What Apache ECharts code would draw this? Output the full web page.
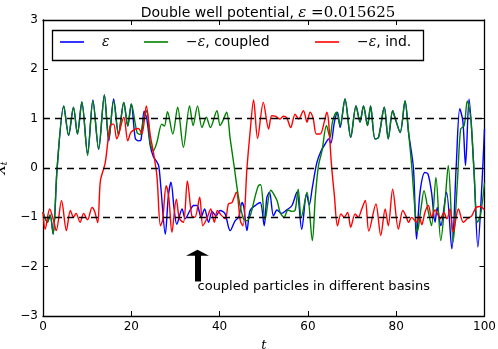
<!DOCTYPE html>
<html>
<head>
<meta charset="utf-8">
<script src="https://cdn.jsdelivr.net/npm/echarts@6/dist/echarts.min.js"></script>
<style>
html, body { margin: 0; padding: 0; background: #fff; }
#chart { width: 498px; height: 349px; }
</style>
</head>
<body>
<div id="chart"></div>
<script>
// tick positions
var xTicks = [0, 20, 40, 60, 80, 100];
var yTicks = [-3, -2, -1, 0, 1, 2, 3];
var wellLevels = [1, 0, -1];

// epsilon (blue)
var epsT = [0,1,1.6,2.3,3.2,4.7,5.8,6.9,7.8,8.8,10.1,11.3,12.6,13.9,14.9,16,17.1,18.3,19.2,20,20.9,21.6,22.2,22.9,23.5,24.3,25,25.6,26.2,26.7,27.7,28.4,29,29.7,30.3,31.5,32.2,33.3,34.1,34.9,35.8,36.6,37.5,38.3,39.2,40.1,41.2,42.4,43.5,44.3,45.1,45.5,46.2,46.9,48.1,49.2,50.1,50.7,51.3,52.2,53,54,55.2,56.4,57.5,58.6,59.7,60.3,61,62,63,64,64.7,65.2,66,66.7,67.3,68.4,69.7,70.9,71.8,72.6,73.5,74.2,75.2,76,77.3,78.2,79.2,79.8,80.9,82,82.8,83.9,84.6,85.4,86.5,87.2,88,88.8,89.3,90.1,91.4,92.6,93.6,94.4,95.1,95.7,96.5,97.6,98.5,99.4,100];
var epsX = [-0.9,-1.1,-0.95,-1.34,0,1.26,0.66,1.23,0.69,1.34,0.3,1.38,0.38,1.48,0.55,1.4,0.7,1.33,0.85,1.3,0.6,0.55,0.57,1.15,1.0,0.45,0.23,0.15,0.05,-0.4,-1.34,-0.56,-0.29,-0.83,-1.14,-0.83,-1.03,-0.86,-0.76,-0.76,-1.0,-0.83,-1.1,-0.88,-0.97,-0.86,-0.92,-1.27,-1.07,-1.0,-0.7,-0.8,-1.27,-0.86,-0.76,-0.7,-1.17,-0.6,-0.49,-0.97,-0.85,-0.92,-0.85,-0.76,-0.49,-1.24,-0.52,-0.75,-0.4,0.1,0.35,0.5,0.59,0.5,0.93,1.13,0.82,1.4,0.62,1.26,0.93,1.26,0.86,1.26,0.59,0.62,1.23,0.59,1.16,1.0,0.72,1.36,0.72,0,-1.44,-0.49,-0.09,-0.12,-0.49,-1.1,-0.8,-1.17,-0.49,-1.64,0.05,1.2,0.95,0.05,1.4,-0.02,-1.6,-0.36,0.79];

// -epsilon, coupled (green)
var coupledT = [0,1,1.6,2.3,3.2,4.7,5.8,6.9,7.8,8.8,10.1,11.3,12.6,13.9,14.9,16,17.1,18.3,19.2,20,21.3,22,22.8,23.5,24.3,25,25.8,26.9,27.5,28.2,29.4,30.5,31.8,33.2,34,35,36,37,37.9,39.4,40.1,40.7,41.6,42.4,43.3,44.3,45.4,46.2,47,48.1,48.8,49.3,50.3,51.6,53,53.7,54.6,55.5,56.4,57.1,57.8,58.5,59.8,61,61.7,62.4,63.2,64.2,65,65.6,66.5,67.3,68.4,69.7,70.9,71.8,72.6,73.5,74.2,75.2,76,77.3,78.2,79.2,79.8,80.9,82,82.8,83.5,84.3,84.8,85.6,86.3,87.3,88,89,90.1,91.1,91.8,92.9,93.9,94.6,95.4,96.1,96.9,97.6,98.4,99.1,100];
var coupledX = [-0.9,-1.1,-0.95,-1.34,0,1.26,0.66,1.23,0.69,1.34,0.25,1.36,0.38,1.48,0.59,1.36,0.66,1.33,0.85,1.3,0.72,0.68,1.0,1.16,0.5,0.35,0.52,0.89,0.85,1.14,0.69,1.23,0.42,1.26,0.86,1.26,0.82,1.03,0.82,1.16,0.86,0.95,1.13,0.59,0.03,-0.6,-1.03,-1.07,-0.95,-0.56,-0.36,-0.34,-1.05,-0.45,-0.66,-0.9,-1.0,-0.85,-0.88,-0.86,-0.43,-1.0,-0.49,-1.47,-0.56,0.05,0.35,0.86,0.62,0.95,1.13,0.86,1.4,0.62,1.26,0.93,1.26,0.86,1.26,0.59,0.62,1.23,0.59,1.16,1.0,0.72,1.36,0.72,0.05,-0.9,-1.3,-0.83,-0.46,-0.9,-1.17,-0.19,-1.47,-0.63,0.05,-1.5,-0.22,0.79,0.86,1.36,0.99,-0.02,-1.1,-0.95,-0.3];

// -epsilon, independent (red)
var indT = [0,0.5,1.5,2.3,3,4.2,5.3,6.2,6.9,7.5,8.4,9.2,10.1,11.1,11.7,12.4,13,14.1,15.2,16,16.7,18.3,19.2,19.9,20.9,21.6,22.4,23.4,24.3,25,25.8,26.6,27.1,27.9,28.5,29.2,30.2,30.9,31.8,32.7,33.7,34.4,35.5,36.2,37.1,38,38.8,39.5,40.3,41.3,42,42.8,43.8,44.7,45.3,46.2,46.9,47.7,48.6,49.9,51.1,51.8,52.6,53.7,54.4,55.2,56.1,57.1,57.9,59,59.8,60.5,61.2,61.9,62.8,63.7,64.3,64.7,65.3,66,66.7,67.5,68.2,69,69.7,70.7,71.4,72.2,73,73.8,75.4,76.5,77.5,78.2,79.2,80.5,81.5,82.2,82.8,83.5,84.6,85.2,85.8,86.5,87.3,88,88.8,90,90.8,91.5,92.2,92.9,94.1,95.2,96.1,97.1,98.1,99,100];
var indX = [-0.9,-1.24,-0.83,-1.03,-1.27,-0.66,-1.27,-0.86,-1.0,-0.92,-1.1,-0.92,-1.05,-0.8,-0.88,-1.11,-0.26,0.11,0.86,0.89,0.59,1.03,0.55,0.72,0.79,0.8,0.69,1.26,0.66,0.32,-0.16,-1.17,-1.05,-0.36,-0.6,-1.3,-0.63,-1.03,-1.1,-0.26,-0.97,-1.0,-0.59,-1.17,-1.03,-0.83,-1.1,-0.86,-0.95,-1.03,-0.73,-0.7,-0.49,-1.07,-1.17,0,0.72,1.38,0.6,1.33,0.79,1.06,1.05,0.99,1.05,1.02,0.82,1.09,0.99,1.16,0.93,1.13,1.0,0.69,0.69,0.93,1.13,0.93,0.11,-0.56,-1.17,-0.93,-1.0,-0.9,-1.2,-0.93,-1.0,-0.83,-0.66,-1.28,-0.73,-1.37,-0.83,-1.17,-0.43,-1.24,-0.86,-0.97,-1.1,-1.0,-1.1,-0.98,-1.15,-0.9,-0.76,-1.0,-0.85,-1.03,-0.9,-1.03,-0.83,-1.3,-0.83,-1.1,-1.03,-0.97,-0.8,-0.78,-0.85];

// annotation (data coordinates)
var arrowFrom = [35, -2.3];
var arrowTo = [35, -1.72];
var noteAt = [35, -2.4];
var noteText = 'coupled particles in different basins';

function pairs(ts, xs) {
    var out = [];
    for (var i = 0; i < ts.length; i++) out.push([ts[i], xs[i]]);
    return out;
}
function minus(v) { return String(v).replace('-', '\u2212'); }

var sans = 'DejaVu Sans';
var serif = 'DejaVu Serif';
var legendRich = {
    g: { width: 13 },
    m: { fontFamily: serif, fontStyle: 'italic', fontSize: 14, color: '#000' },
    t: { fontFamily: sans, fontSize: 14, color: '#000' }
};
function legendText(name) {
    if (name === 'eps') return '{g| }{m|\u03b5}';
    if (name === 'coupled') return '{g| }{m|\u2212\u03b5}{t|, coupled}';
    return '{g| }{m|\u2212\u03b5}{t|, ind.}';
}
function oneLegend(name, left) {
    return {
        data: [name], left: left, top: 35, orient: 'horizontal',
        icon: 'rect', itemWidth: 24, itemHeight: 1.6, padding: 0,
        formatter: legendText, selectedMode: false,
        textStyle: { rich: legendRich, fontSize: 14 }
    };
}

var myChart = echarts.init(document.getElementById('chart'), null, { renderer: 'canvas' });

var axisCommon = {
    axisLine: { onZero: false, lineStyle: { color: '#000', width: 1.3 } },
    axisTick: { inside: true, length: 5, lineStyle: { color: '#000', width: 1 } },
    splitLine: { show: false }
};

var option = {
    animation: false,
    backgroundColor: '#fff',
    title: {
        text: '{a|Double well potential, }{m|\u03b5}{n| =0.015625}',
        left: 263, top: 1, textAlign: 'center',
        textStyle: {
            fontWeight: 'normal',
            rich: {
                a: { fontFamily: sans, fontSize: 14, fontWeight: 'normal', color: '#000' },
                m: { fontFamily: serif, fontStyle: 'italic', fontSize: 15, fontWeight: 'normal', color: '#000' },
                n: { fontFamily: serif, fontSize: 15, fontWeight: 'normal', color: '#000' }
            }
        }
    },
    legend: [oneLegend('eps', 60), oneLegend('coupled', 144), oneLegend('ind', 315)],
    graphic: [{
        type: 'rect', left: 50, top: 28, silent: true,
        shape: { width: 371, height: 30 },
        style: { fill: 'none', stroke: '#000', lineWidth: 1.3 }
    }],
    grid: { left: 43, right: 13.5, top: 20, bottom: 33, containLabel: false, outerBoundsMode: 'none' },
    xAxis: [
        Object.assign({
            type: 'value', min: xTicks[0], max: xTicks[xTicks.length - 1], interval: 20,
            position: 'bottom',
            axisLabel: { color: '#000', fontFamily: sans, fontSize: 12, margin: 5 },
            name: 't', nameLocation: 'middle', nameGap: 23,
            nameTextStyle: { fontFamily: serif, fontStyle: 'italic', fontSize: 13, color: '#000' }
        }, axisCommon),
        Object.assign({
            type: 'value', min: xTicks[0], max: xTicks[xTicks.length - 1], interval: 20,
            position: 'top', axisLabel: { show: false }
        }, axisCommon)
    ],
    yAxis: [
        Object.assign({
            type: 'value', min: yTicks[0], max: yTicks[yTicks.length - 1], interval: 1,
            position: 'left',
            axisLabel: { color: '#000', fontFamily: sans, fontSize: 12, margin: 5, formatter: minus },
            name: '{x|X}{s|t}', nameLocation: 'middle', nameGap: 30,
            nameTextStyle: {
                rich: {
                    x: { fontFamily: serif, fontStyle: 'italic', fontSize: 13, color: '#000' },
                    s: { fontFamily: serif, fontStyle: 'italic', fontSize: 9, color: '#000', verticalAlign: 'bottom', padding: [6, 0, 0, 0] }
                }
            }
        }, axisCommon),
        Object.assign({
            type: 'value', min: yTicks[0], max: yTicks[yTicks.length - 1], interval: 1,
            position: 'right', axisLabel: { show: false }
        }, axisCommon)
    ],
    series: [
        {
            name: 'eps', type: 'line', data: pairs(epsT, epsX),
            showSymbol: false, symbol: 'none', smooth: 0.3,
            lineStyle: { color: '#0000ff', width: 1.4 }, itemStyle: { color: '#0000ff' },
            markLine: {
                silent: true, symbol: ['none', 'none'], label: { show: false },
                lineStyle: { color: '#000', type: [7, 5], width: 1.3 },
                data: wellLevels.map(function (v) { return { yAxis: v }; })
            }
        },
        {
            name: 'coupled', type: 'line', data: pairs(coupledT, coupledX),
            showSymbol: false, symbol: 'none', smooth: 0.3,
            lineStyle: { color: '#008000', width: 1.4 }, itemStyle: { color: '#008000' }
        },
        {
            name: 'ind', type: 'line', data: pairs(indT, indX),
            showSymbol: false, symbol: 'none', smooth: 0.3,
            lineStyle: { color: '#ff0000', width: 1.4 }, itemStyle: { color: '#ff0000' },
            markLine: {
                silent: true, label: { show: false },
                lineStyle: { color: '#000', type: 'solid', width: 6 },
                data: [[
                    { coord: arrowFrom, symbol: 'none' },
                    { coord: arrowTo, symbol: 'triangle', symbolSize: [23, 6] }
                ]]
            },
            markPoint: {
                silent: true,
                data: [{
                    coord: noteAt, symbol: 'circle', symbolSize: 0,
                    label: {
                        show: true, position: 'right', distance: 0, formatter: noteText,
                        color: '#000', fontFamily: sans, fontSize: 13
                    }
                }]
            }
        }
    ]
};
myChart.setOption(option);
</script>
</body>
</html>
